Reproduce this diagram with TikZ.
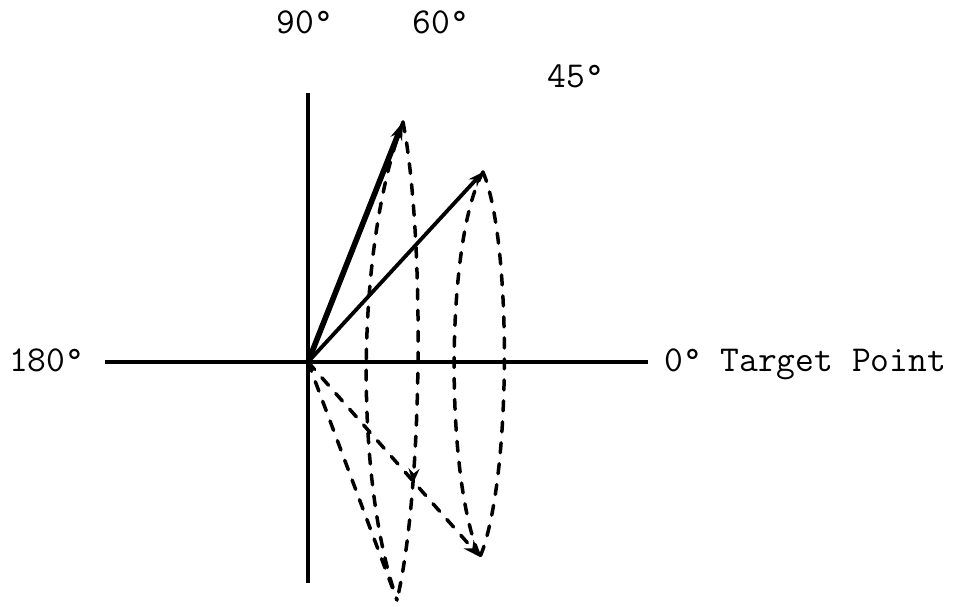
\documentclass[tikz,border=0pt]{standalone}
\usepackage{fontspec}
\newfontfamily\monof{Latin Modern Mono}
\usetikzlibrary{arrows.meta,decorations.markings}
\begin{document}
\begin{tikzpicture}[x=1pt,y=-1pt,
  axisline/.style={line width=3.2pt},
  vecA/.style={line width=5.6pt,-{Stealth[length=18pt,width=12pt]}},
  vecB/.style={line width=3.8pt,-{Stealth[length=15pt,width=11pt]}},
  dsh/.style={line width=3.5pt,dash pattern=on 10pt off 11pt,line cap=round},
  lbl/.style={font=\monof\fontsize{36.5}{42}\selectfont,inner sep=0pt}]
\useasboundingbox[fill=white] (0,0) rectangle (956,607);
% key points
\coordinate (O) at (308,362);
\coordinate (T60) at (403,122);
\coordinate (T45) at (483,172);
\coordinate (B60) at (397,600);
\coordinate (B45) at (480,557);
\coordinate (XL) at (105,362);
\coordinate (XR) at (648,362);
\coordinate (YT) at (308,93);
\coordinate (YB) at (308,583);
% axes
\draw[axisline] (XL) -- (XR);
\draw[axisline] (YT) -- (YB);
% dashed cones
\draw[dsh] (T60) .. controls (355,250) and (355,480) .. (B60);
\draw[dsh,postaction={decorate},decoration={markings,
  mark=at position 0.755 with {\arrow[solid]{Stealth[length=15pt,width=11pt]}}}]
  (T60) .. controls (425,235) and (423,490) .. (B60);
\draw[dsh] (T45) .. controls (445,240) and (445,480) .. (B45);
\draw[dsh] (T45) .. controls (512,240) and (512,480) .. (B45);
\draw[dsh] (O) -- (B60);
\draw[dsh,-{Stealth[length=17pt,width=13pt]}] (O) -- (B45);
% vectors
\draw[vecA] (O) -- (T60);
\draw[vecB] (O) -- (T45);
% labels
\node[lbl] (l90) at (305,22) {90°};
\node[lbl] (l60) at (441,22) {60°};
\node[lbl] (l45) at (576,76) {45°};
\node[lbl,anchor=base west] (l180) at (9,371) {180°};
\node[lbl,anchor=base west] (l0) at (664,371) {0° Target Point};
\end{tikzpicture}
\end{document}
